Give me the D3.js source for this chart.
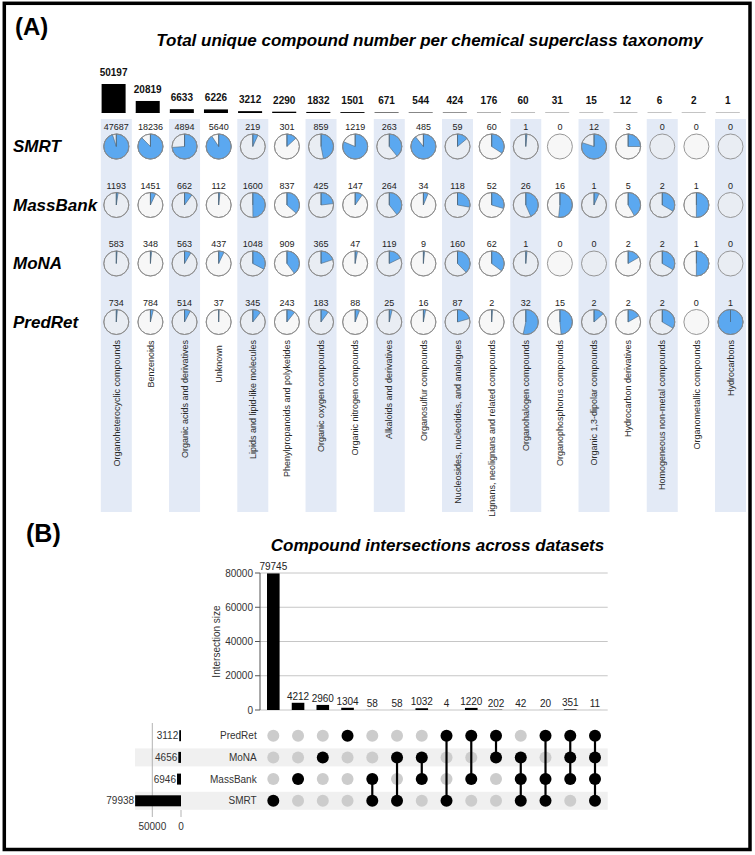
<!DOCTYPE html>
<html><head><meta charset="utf-8">
<script src="https://cdn.jsdelivr.net/npm/d3@7"></script>
<style>body{margin:0;background:#fff} svg{display:block} text{font-family:"Liberation Sans",Arial,sans-serif}</style>
</head><body>
<svg id="c" width="755" height="855"></svg>
<script>
// ---------- DATA ----------
const categories = ["Organoheterocyclic compounds","Benzenoids","Organic acids and derivatives","Unknown",
  "Lipids and lipid-like molecules","Phenylpropanoids and polyketides","Organic oxygen compounds",
  "Organic nitrogen compounds","Alkaloids and derivatives","Organosulfur compounds",
  "Nucleosides, nucleotides, and analogues","Lignans, neolignans and related compounds",
  "Organohalogen compounds","Organophosphorus compounds","Organic 1,3-dipolar compounds",
  "Hydrocarbon derivatives","Homogeneous non-metal compounds","Organometallic compounds","Hydrocarbons"];
const totals   = [50197,20819,6633,6226,3212,2290,1832,1501,671,544,424,176,60,31,15,12,6,2,1];
const datasets = ["SMRT","MassBank","MoNA","PredRet"];
const smrtCounts     = [47687,18236,4894,5640,219,301,859,1219,263,485,59,60,1,0,12,3,0,0,0];
const massbankCounts = [1193,1451,662,112,1600,837,425,147,264,34,118,52,26,16,1,5,2,1,0];
const monaCounts     = [583,348,563,437,1048,909,365,47,119,9,160,62,1,0,0,2,2,1,0];
const predretCounts  = [734,784,514,37,345,243,183,88,25,16,87,2,32,15,2,2,2,0,1];

const setNames = ["PredRet","MoNA","MassBank","SMRT"];
const setSizes = [3112,4656,6946,79938];
const intersectionSizes = [79745,4212,2960,1304,58,58,1032,4,1220,202,42,20,351,11];
const intersectionSets = [["SMRT"],["MassBank"],["MoNA"],["PredRet"],["MassBank","SMRT"],["MoNA","SMRT"],
  ["MoNA","MassBank"],["PredRet","SMRT"],["PredRet","MassBank"],["PredRet","MoNA"],
  ["MoNA","MassBank","SMRT"],["PredRet","MassBank","SMRT"],["PredRet","MoNA","MassBank"],
  ["PredRet","MoNA","MassBank","SMRT"]];
const intersectionTicks = [0,20000,40000,60000,80000];
const setSizeTicks = [50000,0];

const rowCounts = [smrtCounts, massbankCounts, monaCounts, predretCounts];

// ---------- DRAW ----------
const svg = d3.select("#c");

// ===== Part A =====
svg.append("text").attr("x",15).attr("y",35).attr("font-size",24).attr("font-weight","bold").text("(A)");
svg.append("text").attr("x",429.5).attr("y",46).attr("text-anchor","middle").attr("font-size",17)
  .attr("font-weight","bold").attr("font-style","italic")
  .text("Total unique compound number per chemical superclass taxonomy");

const xA = d3.scalePoint().domain(categories).range([116.3, 730.5]);
const bandW = 31;
svg.append("g").selectAll("rect").data(categories.filter((d,i)=>i%2===0)).join("rect")
  .attr("x",d=>xA(d)-bandW/2).attr("y",119).attr("width",bandW).attr("height",393).attr("fill","#e3eaf6");

// top bars
const yTop = d3.scaleLinear().domain([0, d3.max(totals)]).range([113, 84]);
const topOff = -2.7, topW = 24;
const gTop = svg.append("g");
gTop.selectAll("line").data(categories).join("line")
  .attr("x1",d=>xA(d)+topOff-topW/2).attr("x2",d=>xA(d)+topOff+topW/2)
  .attr("y1",yTop(0)-0.5).attr("y2",yTop(0)-0.5).attr("stroke","#c4c4c4").attr("stroke-width",1);
gTop.selectAll("rect").data(categories).join("rect")
  .attr("x",d=>xA(d)+topOff-topW/2).attr("width",topW)
  .attr("y",(d,i)=>yTop(totals[i])).attr("height",(d,i)=>yTop(0)-yTop(totals[i])).attr("fill","#000");
gTop.selectAll("text").data(categories).join("text")
  .attr("x",d=>xA(d)+topOff).attr("y",(d,i)=>Math.min(yTop(totals[i]),yTop(0)-1.5)-8)
  .attr("text-anchor","middle").attr("font-size",10).attr("font-weight","bold").attr("fill","#111")
  .text((d,i)=>totals[i]);

// pie rows
const yRow = d3.scalePoint().domain(datasets).range([146.5, 322]);
const R = 12.5;
const arc = d3.arc().innerRadius(0).outerRadius(R);
datasets.forEach((ds, r) => {
  const cy = yRow(ds);
  svg.append("text").attr("x",13).attr("y",cy+5.5).attr("font-size",17).attr("font-weight","bold")
    .attr("font-style","italic").text(ds);
  const g = svg.append("g");
  categories.forEach((cat, i) => {
    const v = rowCounts[r][i], t = totals[i];
    const cx = xA(cat);
    g.append("text").attr("x",cx).attr("y",cy-16.5).attr("text-anchor","middle").attr("font-size",9)
      .attr("fill","#222").text(v);
    const pg = g.append("g").attr("transform",`translate(${cx},${cy})`);
    pg.append("circle").attr("r",R).attr("fill","rgba(240,240,240,0.5)").attr("stroke","#8c8c8c").attr("stroke-width",0.9);
    if (v > 0) {
      pg.append("path").attr("d",arc({startAngle:0,endAngle:2*Math.PI*v/t}))
        .attr("fill","#5ba8f0").attr("stroke","#4d6478").attr("stroke-width",0.6);
      pg.append("line").attr("x1",0).attr("y1",0).attr("x2",0).attr("y2",-R)
        .attr("stroke","#4d6478").attr("stroke-width",0.8);
      pg.append("circle").attr("r",R).attr("fill","none").attr("stroke","#8c8c8c").attr("stroke-width",0.9);
    }
  });
});

// category labels
const gLab = svg.append("g");
categories.forEach(cat => {
  const t = gLab.append("text").attr("text-anchor","end").attr("font-size",9).attr("fill","#2a2a2a").text(cat);
  const len = t.node().getComputedTextLength();
  const top = Math.max(340, 364 - len/2);
  t.attr("transform",`translate(${xA(cat)+3.2},${top}) rotate(-90)`);
});

// ===== Part B =====
svg.append("text").attr("x",26).attr("y",542).attr("font-size",25).attr("font-weight","bold").text("(B)");
svg.append("text").attr("x",437.5).attr("y",551).attr("text-anchor","middle").attr("font-size",17)
  .attr("font-weight","bold").attr("font-style","italic").text("Compound intersections across datasets");

const colIdx = d3.range(intersectionSizes.length);
const xB = d3.scalePoint().domain(colIdx).range([273.3, 595]);
const yB = d3.scaleLinear().domain([0, 80000]).range([710, 573]);
const gridX0 = 260, gridX1 = 607.7;

const gB = svg.append("g");
gB.selectAll("line.grid").data(intersectionTicks).join("line").attr("class","grid")
  .attr("x1",gridX0).attr("x2",gridX1).attr("y1",d=>yB(d)).attr("y2",d=>yB(d))
  .attr("stroke","#c6c6c6").attr("stroke-width",1);
gB.append("line").attr("x1",gridX0).attr("x2",gridX0).attr("y1",yB(80000)).attr("y2",yB(0))
  .attr("stroke","#555").attr("stroke-width",1);
gB.selectAll("line.tk").data(intersectionTicks).join("line").attr("class","tk")
  .attr("x1",gridX0-5).attr("x2",gridX0).attr("y1",d=>yB(d)).attr("y2",d=>yB(d)).attr("stroke","#555");
gB.selectAll("text.tl").data(intersectionTicks).join("text").attr("class","tl")
  .attr("x",gridX0-7).attr("y",d=>yB(d)+3.5).attr("text-anchor","end").attr("font-size",10).attr("fill","#333")
  .text(d=>d);
svg.append("text").attr("transform",`translate(220,641.5) rotate(-90)`).attr("text-anchor","middle")
  .attr("font-size",10).attr("fill","#333").text("Intersection size");

const bw = 12.6;
gB.selectAll("rect.ib").data(colIdx).join("rect").attr("class","ib")
  .attr("x",i=>xB(i)-bw/2).attr("width",bw).attr("y",i=>yB(intersectionSizes[i]))
  .attr("height",i=>yB(0)-yB(intersectionSizes[i])).attr("fill","#000");
gB.selectAll("text.il").data(colIdx).join("text").attr("class","il")
  .attr("x",i=>xB(i)).attr("y",i=>yB(intersectionSizes[i])-3).attr("text-anchor","middle")
  .attr("font-size",10).attr("fill","#222").text(i=>intersectionSizes[i]);

// matrix
const yM = d3.scalePoint().domain(setNames).range([735.7, 800.8]);
const stripeX0 = 135;
setNames.forEach((s,i)=>{
  if (i%2===1) svg.append("rect").attr("x",stripeX0).attr("y",yM(s)-9).attr("width",gridX1-stripeX0)
    .attr("height",18).attr("fill","#f0f0f0");
});
const xS = d3.scaleLinear().domain([0,50000]).range([181,152.3]);
svg.append("line").attr("x1",xS(50000)).attr("x2",xS(50000)).attr("y1",723).attr("y2",817)
  .attr("stroke","#aaa").attr("stroke-width",0.9);
svg.append("line").attr("x1",xS(0)).attr("x2",xS(0)).attr("y1",810).attr("y2",817)
  .attr("stroke","#aaa").attr("stroke-width",0.9);
svg.selectAll("text.st").data(setSizeTicks).join("text").attr("class","st")
  .attr("x",d=>xS(d)).attr("y",830).attr("text-anchor","middle").attr("font-size",10).attr("fill","#333").text(d=>d);
setNames.forEach((s,i)=>{
  const v = setSizes[i];
  svg.append("rect").attr("x",xS(v)).attr("width",xS(0)-xS(v)).attr("y",yM(s)-5.5).attr("height",11).attr("fill","#000");
  svg.append("text").attr("x",xS(v)-1).attr("y",yM(s)+3.5).attr("text-anchor","end").attr("font-size",10)
    .attr("fill","#333").text(v);
  svg.append("text").attr("x",256.7).attr("y",yM(s)+3.5).attr("text-anchor","end").attr("font-size",10)
    .attr("fill","#333").text(s);
});
const gM = svg.append("g");
colIdx.forEach(i=>{
  const mem = intersectionSets[i];
  setNames.forEach(s=>{
    gM.append("circle").attr("cx",xB(i)).attr("cy",yM(s)).attr("r",6)
      .attr("fill", mem.includes(s) ? "#000" : "#cccccc");
  });
  if (mem.length > 1) {
    const ys = mem.map(s=>yM(s));
    gM.append("line").attr("x1",xB(i)).attr("x2",xB(i)).attr("y1",d3.min(ys)).attr("y2",d3.max(ys))
      .attr("stroke","#000").attr("stroke-width",2.2);
  }
});

// frame
svg.append("rect").attr("x",4.3).attr("y",3.3).attr("width",745.7).attr("height",846.2)
  .attr("fill","none").attr("stroke","#000").attr("stroke-width",3.5);
</script>
</body></html>
